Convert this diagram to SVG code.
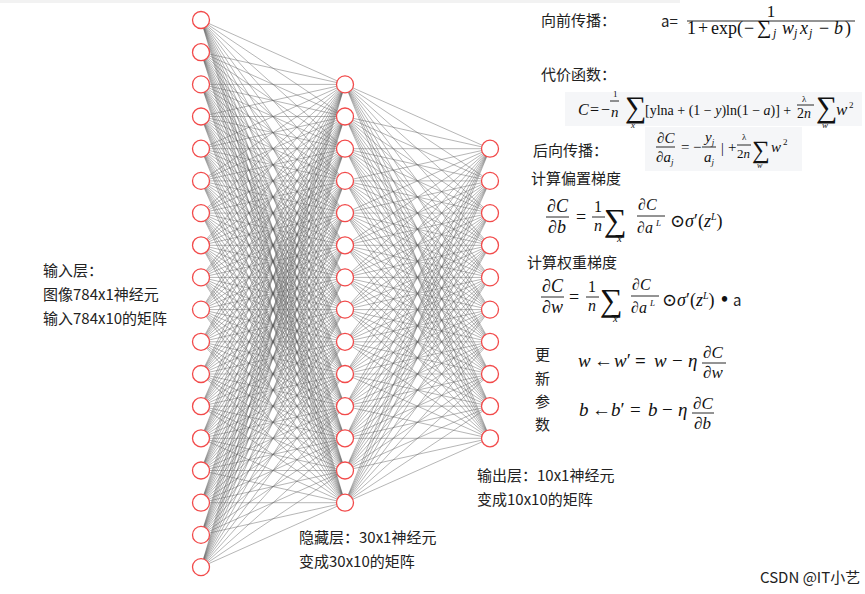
<svg xmlns="http://www.w3.org/2000/svg" width="865" height="594" viewBox="0 0 865 594">
<style>
.e{fill:none;stroke:#5e5e5e;stroke-opacity:.5;stroke-width:.9}
.n{fill:#fff;stroke:#f24a4a;stroke-width:1.3}
.t{font-family:"Noto Sans CJK SC","Noto Sans",sans-serif;font-size:15px;fill:#222}
.m{font-family:"Liberation Serif","DejaVu Serif",serif;fill:#111}
.i{font-style:italic}
.box{fill:#f5f6f8}
.bar{stroke:#111;stroke-width:.9}
</style>
<rect x="0" y="0" width="865" height="594" fill="#fff"/>
<rect x="0" y="0" width="680" height="3" fill="#f2f2f2"/>
<g id="connectors">
<path class="e" d="M201 20L345 84.4M201 20L345 116.5M201 20L345 148.7M201 20L345 180.9M201 20L345 213.1M201 20L345 245.3M201 20L345 277.4M201 20L345 309.6M201 20L345 341.8M201 20L345 374M201 20L345 406.2M201 20L345 438.3M201 20L345 470.5M201 20L345 502.7"/>
<path class="e" d="M201 52.2L345 84.4M201 52.2L345 116.5M201 52.2L345 148.7M201 52.2L345 180.9M201 52.2L345 213.1M201 52.2L345 245.3M201 52.2L345 277.4M201 52.2L345 309.6M201 52.2L345 341.8M201 52.2L345 374M201 52.2L345 406.2M201 52.2L345 438.3M201 52.2L345 470.5M201 52.2L345 502.7"/>
<path class="e" d="M201 84.4L345 84.4M201 84.4L345 116.5M201 84.4L345 148.7M201 84.4L345 180.9M201 84.4L345 213.1M201 84.4L345 245.3M201 84.4L345 277.4M201 84.4L345 309.6M201 84.4L345 341.8M201 84.4L345 374M201 84.4L345 406.2M201 84.4L345 438.3M201 84.4L345 470.5M201 84.4L345 502.7"/>
<path class="e" d="M201 116.5L345 84.4M201 116.5L345 116.5M201 116.5L345 148.7M201 116.5L345 180.9M201 116.5L345 213.1M201 116.5L345 245.3M201 116.5L345 277.4M201 116.5L345 309.6M201 116.5L345 341.8M201 116.5L345 374M201 116.5L345 406.2M201 116.5L345 438.3M201 116.5L345 470.5M201 116.5L345 502.7"/>
<path class="e" d="M201 148.7L345 84.4M201 148.7L345 116.5M201 148.7L345 148.7M201 148.7L345 180.9M201 148.7L345 213.1M201 148.7L345 245.3M201 148.7L345 277.4M201 148.7L345 309.6M201 148.7L345 341.8M201 148.7L345 374M201 148.7L345 406.2M201 148.7L345 438.3M201 148.7L345 470.5M201 148.7L345 502.7"/>
<path class="e" d="M201 180.9L345 84.4M201 180.9L345 116.5M201 180.9L345 148.7M201 180.9L345 180.9M201 180.9L345 213.1M201 180.9L345 245.3M201 180.9L345 277.4M201 180.9L345 309.6M201 180.9L345 341.8M201 180.9L345 374M201 180.9L345 406.2M201 180.9L345 438.3M201 180.9L345 470.5M201 180.9L345 502.7"/>
<path class="e" d="M201 213.1L345 84.4M201 213.1L345 116.5M201 213.1L345 148.7M201 213.1L345 180.9M201 213.1L345 213.1M201 213.1L345 245.3M201 213.1L345 277.4M201 213.1L345 309.6M201 213.1L345 341.8M201 213.1L345 374M201 213.1L345 406.2M201 213.1L345 438.3M201 213.1L345 470.5M201 213.1L345 502.7"/>
<path class="e" d="M201 245.3L345 84.4M201 245.3L345 116.5M201 245.3L345 148.7M201 245.3L345 180.9M201 245.3L345 213.1M201 245.3L345 245.3M201 245.3L345 277.4M201 245.3L345 309.6M201 245.3L345 341.8M201 245.3L345 374M201 245.3L345 406.2M201 245.3L345 438.3M201 245.3L345 470.5M201 245.3L345 502.7"/>
<path class="e" d="M201 277.4L345 84.4M201 277.4L345 116.5M201 277.4L345 148.7M201 277.4L345 180.9M201 277.4L345 213.1M201 277.4L345 245.3M201 277.4L345 277.4M201 277.4L345 309.6M201 277.4L345 341.8M201 277.4L345 374M201 277.4L345 406.2M201 277.4L345 438.3M201 277.4L345 470.5M201 277.4L345 502.7"/>
<path class="e" d="M201 309.6L345 84.4M201 309.6L345 116.5M201 309.6L345 148.7M201 309.6L345 180.9M201 309.6L345 213.1M201 309.6L345 245.3M201 309.6L345 277.4M201 309.6L345 309.6M201 309.6L345 341.8M201 309.6L345 374M201 309.6L345 406.2M201 309.6L345 438.3M201 309.6L345 470.5M201 309.6L345 502.7"/>
<path class="e" d="M201 341.8L345 84.4M201 341.8L345 116.5M201 341.8L345 148.7M201 341.8L345 180.9M201 341.8L345 213.1M201 341.8L345 245.3M201 341.8L345 277.4M201 341.8L345 309.6M201 341.8L345 341.8M201 341.8L345 374M201 341.8L345 406.2M201 341.8L345 438.3M201 341.8L345 470.5M201 341.8L345 502.7"/>
<path class="e" d="M201 374L345 84.4M201 374L345 116.5M201 374L345 148.7M201 374L345 180.9M201 374L345 213.1M201 374L345 245.3M201 374L345 277.4M201 374L345 309.6M201 374L345 341.8M201 374L345 374M201 374L345 406.2M201 374L345 438.3M201 374L345 470.5M201 374L345 502.7"/>
<path class="e" d="M201 406.2L345 84.4M201 406.2L345 116.5M201 406.2L345 148.7M201 406.2L345 180.9M201 406.2L345 213.1M201 406.2L345 245.3M201 406.2L345 277.4M201 406.2L345 309.6M201 406.2L345 341.8M201 406.2L345 374M201 406.2L345 406.2M201 406.2L345 438.3M201 406.2L345 470.5M201 406.2L345 502.7"/>
<path class="e" d="M201 438.3L345 84.4M201 438.3L345 116.5M201 438.3L345 148.7M201 438.3L345 180.9M201 438.3L345 213.1M201 438.3L345 245.3M201 438.3L345 277.4M201 438.3L345 309.6M201 438.3L345 341.8M201 438.3L345 374M201 438.3L345 406.2M201 438.3L345 438.3M201 438.3L345 470.5M201 438.3L345 502.7"/>
<path class="e" d="M201 470.5L345 84.4M201 470.5L345 116.5M201 470.5L345 148.7M201 470.5L345 180.9M201 470.5L345 213.1M201 470.5L345 245.3M201 470.5L345 277.4M201 470.5L345 309.6M201 470.5L345 341.8M201 470.5L345 374M201 470.5L345 406.2M201 470.5L345 438.3M201 470.5L345 470.5M201 470.5L345 502.7"/>
<path class="e" d="M201 502.7L345 84.4M201 502.7L345 116.5M201 502.7L345 148.7M201 502.7L345 180.9M201 502.7L345 213.1M201 502.7L345 245.3M201 502.7L345 277.4M201 502.7L345 309.6M201 502.7L345 341.8M201 502.7L345 374M201 502.7L345 406.2M201 502.7L345 438.3M201 502.7L345 470.5M201 502.7L345 502.7"/>
<path class="e" d="M201 534.9L345 84.4M201 534.9L345 116.5M201 534.9L345 148.7M201 534.9L345 180.9M201 534.9L345 213.1M201 534.9L345 245.3M201 534.9L345 277.4M201 534.9L345 309.6M201 534.9L345 341.8M201 534.9L345 374M201 534.9L345 406.2M201 534.9L345 438.3M201 534.9L345 470.5M201 534.9L345 502.7"/>
<path class="e" d="M201 567.1L345 84.4M201 567.1L345 116.5M201 567.1L345 148.7M201 567.1L345 180.9M201 567.1L345 213.1M201 567.1L345 245.3M201 567.1L345 277.4M201 567.1L345 309.6M201 567.1L345 341.8M201 567.1L345 374M201 567.1L345 406.2M201 567.1L345 438.3M201 567.1L345 470.5M201 567.1L345 502.7"/>
<path class="e" d="M345 84.4L490 148.7M345 84.4L490 180.9M345 84.4L490 213.1M345 84.4L490 245.3M345 84.4L490 277.4M345 84.4L490 309.6M345 84.4L490 341.8M345 84.4L490 374M345 84.4L490 406.2M345 84.4L490 438.3"/>
<path class="e" d="M345 116.5L490 148.7M345 116.5L490 180.9M345 116.5L490 213.1M345 116.5L490 245.3M345 116.5L490 277.4M345 116.5L490 309.6M345 116.5L490 341.8M345 116.5L490 374M345 116.5L490 406.2M345 116.5L490 438.3"/>
<path class="e" d="M345 148.7L490 148.7M345 148.7L490 180.9M345 148.7L490 213.1M345 148.7L490 245.3M345 148.7L490 277.4M345 148.7L490 309.6M345 148.7L490 341.8M345 148.7L490 374M345 148.7L490 406.2M345 148.7L490 438.3"/>
<path class="e" d="M345 180.9L490 148.7M345 180.9L490 180.9M345 180.9L490 213.1M345 180.9L490 245.3M345 180.9L490 277.4M345 180.9L490 309.6M345 180.9L490 341.8M345 180.9L490 374M345 180.9L490 406.2M345 180.9L490 438.3"/>
<path class="e" d="M345 213.1L490 148.7M345 213.1L490 180.9M345 213.1L490 213.1M345 213.1L490 245.3M345 213.1L490 277.4M345 213.1L490 309.6M345 213.1L490 341.8M345 213.1L490 374M345 213.1L490 406.2M345 213.1L490 438.3"/>
<path class="e" d="M345 245.3L490 148.7M345 245.3L490 180.9M345 245.3L490 213.1M345 245.3L490 245.3M345 245.3L490 277.4M345 245.3L490 309.6M345 245.3L490 341.8M345 245.3L490 374M345 245.3L490 406.2M345 245.3L490 438.3"/>
<path class="e" d="M345 277.4L490 148.7M345 277.4L490 180.9M345 277.4L490 213.1M345 277.4L490 245.3M345 277.4L490 277.4M345 277.4L490 309.6M345 277.4L490 341.8M345 277.4L490 374M345 277.4L490 406.2M345 277.4L490 438.3"/>
<path class="e" d="M345 309.6L490 148.7M345 309.6L490 180.9M345 309.6L490 213.1M345 309.6L490 245.3M345 309.6L490 277.4M345 309.6L490 309.6M345 309.6L490 341.8M345 309.6L490 374M345 309.6L490 406.2M345 309.6L490 438.3"/>
<path class="e" d="M345 341.8L490 148.7M345 341.8L490 180.9M345 341.8L490 213.1M345 341.8L490 245.3M345 341.8L490 277.4M345 341.8L490 309.6M345 341.8L490 341.8M345 341.8L490 374M345 341.8L490 406.2M345 341.8L490 438.3"/>
<path class="e" d="M345 374L490 148.7M345 374L490 180.9M345 374L490 213.1M345 374L490 245.3M345 374L490 277.4M345 374L490 309.6M345 374L490 341.8M345 374L490 374M345 374L490 406.2M345 374L490 438.3"/>
<path class="e" d="M345 406.2L490 148.7M345 406.2L490 180.9M345 406.2L490 213.1M345 406.2L490 245.3M345 406.2L490 277.4M345 406.2L490 309.6M345 406.2L490 341.8M345 406.2L490 374M345 406.2L490 406.2M345 406.2L490 438.3"/>
<path class="e" d="M345 438.3L490 148.7M345 438.3L490 180.9M345 438.3L490 213.1M345 438.3L490 245.3M345 438.3L490 277.4M345 438.3L490 309.6M345 438.3L490 341.8M345 438.3L490 374M345 438.3L490 406.2M345 438.3L490 438.3"/>
<path class="e" d="M345 470.5L490 148.7M345 470.5L490 180.9M345 470.5L490 213.1M345 470.5L490 245.3M345 470.5L490 277.4M345 470.5L490 309.6M345 470.5L490 341.8M345 470.5L490 374M345 470.5L490 406.2M345 470.5L490 438.3"/>
<path class="e" d="M345 502.7L490 148.7M345 502.7L490 180.9M345 502.7L490 213.1M345 502.7L490 245.3M345 502.7L490 277.4M345 502.7L490 309.6M345 502.7L490 341.8M345 502.7L490 374M345 502.7L490 406.2M345 502.7L490 438.3"/>
</g>
<g id="input-layer">
<g id="in0"><circle class="n" cx="201" cy="20" r="8.5"/></g>
<g id="in1"><circle class="n" cx="201" cy="52.2" r="8.5"/></g>
<g id="in2"><circle class="n" cx="201" cy="84.4" r="8.5"/></g>
<g id="in3"><circle class="n" cx="201" cy="116.5" r="8.5"/></g>
<g id="in4"><circle class="n" cx="201" cy="148.7" r="8.5"/></g>
<g id="in5"><circle class="n" cx="201" cy="180.9" r="8.5"/></g>
<g id="in6"><circle class="n" cx="201" cy="213.1" r="8.5"/></g>
<g id="in7"><circle class="n" cx="201" cy="245.3" r="8.5"/></g>
<g id="in8"><circle class="n" cx="201" cy="277.4" r="8.5"/></g>
<g id="in9"><circle class="n" cx="201" cy="309.6" r="8.5"/></g>
<g id="in10"><circle class="n" cx="201" cy="341.8" r="8.5"/></g>
<g id="in11"><circle class="n" cx="201" cy="374" r="8.5"/></g>
<g id="in12"><circle class="n" cx="201" cy="406.2" r="8.5"/></g>
<g id="in13"><circle class="n" cx="201" cy="438.3" r="8.5"/></g>
<g id="in14"><circle class="n" cx="201" cy="470.5" r="8.5"/></g>
<g id="in15"><circle class="n" cx="201" cy="502.7" r="8.5"/></g>
<g id="in16"><circle class="n" cx="201" cy="534.9" r="8.5"/></g>
<g id="in17"><circle class="n" cx="201" cy="567.1" r="8.5"/></g>
</g>
<g id="hidden-layer">
<g id="h0"><circle class="n" cx="345" cy="84.4" r="8.5"/></g>
<g id="h1"><circle class="n" cx="345" cy="116.5" r="8.5"/></g>
<g id="h2"><circle class="n" cx="345" cy="148.7" r="8.5"/></g>
<g id="h3"><circle class="n" cx="345" cy="180.9" r="8.5"/></g>
<g id="h4"><circle class="n" cx="345" cy="213.1" r="8.5"/></g>
<g id="h5"><circle class="n" cx="345" cy="245.3" r="8.5"/></g>
<g id="h6"><circle class="n" cx="345" cy="277.4" r="8.5"/></g>
<g id="h7"><circle class="n" cx="345" cy="309.6" r="8.5"/></g>
<g id="h8"><circle class="n" cx="345" cy="341.8" r="8.5"/></g>
<g id="h9"><circle class="n" cx="345" cy="374" r="8.5"/></g>
<g id="h10"><circle class="n" cx="345" cy="406.2" r="8.5"/></g>
<g id="h11"><circle class="n" cx="345" cy="438.3" r="8.5"/></g>
<g id="h12"><circle class="n" cx="345" cy="470.5" r="8.5"/></g>
<g id="h13"><circle class="n" cx="345" cy="502.7" r="8.5"/></g>
</g>
<g id="output-layer">
<g id="o0"><circle class="n" cx="490" cy="148.7" r="8.5"/></g>
<g id="o1"><circle class="n" cx="490" cy="180.9" r="8.5"/></g>
<g id="o2"><circle class="n" cx="490" cy="213.1" r="8.5"/></g>
<g id="o3"><circle class="n" cx="490" cy="245.3" r="8.5"/></g>
<g id="o4"><circle class="n" cx="490" cy="277.4" r="8.5"/></g>
<g id="o5"><circle class="n" cx="490" cy="309.6" r="8.5"/></g>
<g id="o6"><circle class="n" cx="490" cy="341.8" r="8.5"/></g>
<g id="o7"><circle class="n" cx="490" cy="374" r="8.5"/></g>
<g id="o8"><circle class="n" cx="490" cy="406.2" r="8.5"/></g>
<g id="o9"><circle class="n" cx="490" cy="438.3" r="8.5"/></g>
</g>
<g id="layer-labels">
<text class="t" x="43" y="276">输入层：</text>
<text class="t" x="43" y="300">图像784x1神经元</text>
<text class="t" x="43" y="324">输入784x10的矩阵</text>
<text class="t" x="299" y="543">隐藏层：30x1神经元</text>
<text class="t" x="299" y="567">变成30x10的矩阵</text>
<text class="t" x="477" y="481">输出层：10x1神经元</text>
<text class="t" x="477" y="505">变成10x10的矩阵</text>
</g>
<g id="forward">
<text class="t" x="541" y="26">向前传播：</text>
<text class="t" x="661" y="27">a=</text>
<text class="m" x="771" y="17" font-size="17" text-anchor="middle">1</text>
<line class="bar" x1="687" y1="21" x2="855" y2="21"/>
<text class="m" y="34" font-size="18"><tspan x="687">1</tspan><tspan x="698">+</tspan><tspan x="711">exp(</tspan><tspan x="744">−</tspan><tspan x="757" font-size="20">∑</tspan><tspan x="773" y="37" font-size="12" class="i">j</tspan><tspan x="782" y="34" class="i">w</tspan><tspan x="794" y="37" font-size="12" class="i">j</tspan><tspan x="800" y="34" class="i">x</tspan><tspan x="809" y="37" font-size="12" class="i">j</tspan><tspan x="819" y="34">−</tspan><tspan x="834" class="i">b</tspan><tspan x="845">)</tspan></text>
</g>
<g id="cost">
<text class="t" x="541" y="80">代价函数：</text>
<rect class="box" x="565" y="92" width="297" height="34"/>
<text class="m" y="115" font-size="16"><tspan x="578" class="i">C</tspan><tspan x="590">=</tspan><tspan x="601">−</tspan></text>
<text class="m" x="613" y="97" font-size="9" fill="#888">1</text>
<line class="bar" x1="610" y1="101" x2="619" y2="101" stroke-width=".6"/>
<text class="m i" x="611" y="117" font-size="15">n</text>
<text class="m" x="625" y="117" font-size="30">∑</text>
<text class="m i" x="631" y="128" font-size="9">x</text>
<text class="m" x="645" y="115" font-size="14">[ylna + (1 − <tspan class="i">y</tspan>)ln(1 − <tspan class="i">a</tspan>)] +</text>
<text class="m" x="802" y="102" font-size="9">λ</text>
<line class="bar" x1="797" y1="105" x2="814" y2="105" stroke-width=".6"/>
<text class="m" x="797" y="118" font-size="14">2<tspan class="i">n</tspan></text>
<text class="m" x="816" y="117" font-size="30">∑</text>
<text class="m i" x="822" y="128" font-size="9">w</text>
<text class="m i" x="836" y="115" font-size="17">w</text>
<text class="m" x="849" y="108" font-size="9">2</text>
</g>
<g id="backward">
<text class="t" x="533" y="156">后向传播：</text>
<rect class="box" x="645" y="127" width="157" height="44"/>
<text class="m" x="657" y="143" font-size="15">∂<tspan class="i">C</tspan></text>
<line class="bar" x1="656" y1="147" x2="675" y2="147"/>
<text class="m" x="656" y="162" font-size="15">∂<tspan class="i">a</tspan><tspan class="i" font-size="9" dy="3">j</tspan></text>
<text class="m" x="681" y="152" font-size="15">=</text>
<text class="m" x="693" y="152" font-size="15">−</text>
<text class="m i" x="705" y="142" font-size="15">y<tspan font-size="9" dy="3">j</tspan></text>
<line class="bar" x1="702" y1="147" x2="716" y2="147"/>
<text class="m i" x="704" y="162" font-size="15">a<tspan font-size="9" dy="3">j</tspan></text>
<text class="m" x="721" y="153" font-size="14" fill="#bbb">|</text>
<text class="m" x="728" y="152" font-size="15">+</text>
<text class="m" x="742" y="140" font-size="9">λ</text>
<line class="bar" x1="737" y1="145" x2="751" y2="145" stroke-width=".6"/>
<text class="m" x="737" y="158" font-size="13">2<tspan class="i">n</tspan></text>
<text class="m" x="752" y="158" font-size="25">∑</text>
<text class="m i" x="757" y="168" font-size="8">w</text>
<text class="m i" x="771" y="152" font-size="15">w</text>
<text class="m" x="783" y="145" font-size="9">2</text>
</g>
<g id="bias-gradient">
<text class="t" x="531" y="184" font-size="16">计算偏置梯度</text>
<text class="m" x="547" y="212" font-size="18">∂<tspan class="i">C</tspan></text>
<line class="bar" x1="546" y1="217" x2="569" y2="217" stroke-width="1.1"/>
<text class="m" x="548" y="233" font-size="18">∂<tspan class="i">b</tspan></text>
<text class="m" x="576" y="223" font-size="18">=</text>
<text class="m" x="594" y="212" font-size="16">1</text>
<line class="bar" x1="592" y1="217" x2="605" y2="217"/>
<text class="m i" x="594" y="231" font-size="16">n</text>
<text class="m" x="604" y="231" font-size="32">∑</text>
<text class="m i" x="617" y="242" font-size="11">x</text>
<text class="m" x="638" y="210" font-size="16">∂<tspan class="i">C</tspan></text>
<line class="bar" x1="637" y1="216" x2="665" y2="216"/>
<text class="m" x="637" y="233" font-size="16">∂<tspan class="i">a</tspan></text>
<text class="m i" x="656" y="226" font-size="9">L</text>
<text class="m" x="670" y="227" font-size="18">⊙<tspan class="i">σ</tspan>′(<tspan class="i">z</tspan><tspan class="i" font-size="10" dy="-7">L</tspan><tspan dy="7">)</tspan></text>
</g>
<g id="weight-gradient">
<text class="t" x="527" y="268" font-size="16">计算权重梯度</text>
<text class="m" x="542" y="292" font-size="18">∂<tspan class="i">C</tspan></text>
<line class="bar" x1="541" y1="297" x2="564" y2="297" stroke-width="1.1"/>
<text class="m" x="542" y="313" font-size="18">∂<tspan class="i">w</tspan></text>
<text class="m" x="569" y="303" font-size="18">=</text>
<text class="m" x="588" y="292" font-size="16">1</text>
<line class="bar" x1="586" y1="297" x2="599" y2="297"/>
<text class="m i" x="588" y="311" font-size="16">n</text>
<text class="m" x="600" y="311" font-size="32">∑</text>
<text class="m i" x="613" y="322" font-size="11">x</text>
<text class="m" x="632" y="290" font-size="16">∂<tspan class="i">C</tspan></text>
<line class="bar" x1="631" y1="296" x2="659" y2="296"/>
<text class="m" x="631" y="313" font-size="16">∂<tspan class="i">a</tspan></text>
<text class="m i" x="650" y="306" font-size="9">L</text>
<text class="m" x="662" y="306" font-size="18">⊙<tspan class="i">σ</tspan>′(<tspan class="i">z</tspan><tspan class="i" font-size="10" dy="-7">L</tspan><tspan dy="7">)</tspan></text>
<text class="m" x="721" y="306" font-size="20" font-weight="bold">•</text>
<text class="t" x="733" y="306" font-size="18">a</text>
</g>
<g id="update">
<text class="t" x="535" y="360" font-size="12">更</text>
<text class="t" x="535" y="384" font-size="12">新</text>
<text class="t" x="535" y="407" font-size="12">参</text>
<text class="t" x="535" y="430" font-size="12">数</text>
<text class="m" y="367" font-size="19"><tspan x="578" class="i">w</tspan><tspan x="594">←</tspan><tspan x="614" class="i">w</tspan><tspan>′</tspan><tspan x="635" font-weight="bold">=</tspan><tspan x="654" class="i">w</tspan><tspan x="672">−</tspan><tspan x="688" class="i">η</tspan></text>
<text class="m" x="703" y="358" font-size="17">∂<tspan class="i">C</tspan></text>
<line class="bar" x1="702" y1="363" x2="726" y2="363" stroke-width="1.1"/>
<text class="m" x="703" y="378" font-size="17">∂<tspan class="i">w</tspan></text>
<text class="m" y="416" font-size="19"><tspan x="579" class="i">b</tspan><tspan x="592">←</tspan><tspan x="611" class="i">b</tspan><tspan>′</tspan><tspan x="630">=</tspan><tspan x="648" class="i">b</tspan><tspan x="662">−</tspan><tspan x="678" class="i">η</tspan></text>
<text class="m" x="693" y="409" font-size="17">∂<tspan class="i">C</tspan></text>
<line class="bar" x1="692" y1="413" x2="714" y2="413" stroke-width="1.1"/>
<text class="m" x="694" y="429" font-size="17">∂<tspan class="i">b</tspan></text>
</g>
<text class="t" x="760" y="583" font-size="13" fill="#999">CSDN @IT小艺</text>
</svg>
